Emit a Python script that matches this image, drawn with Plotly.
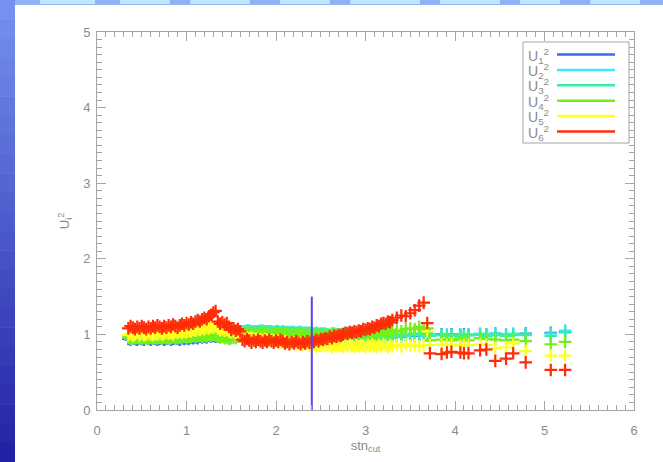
import plotly.graph_objects as go

# stn_cut values shared by all six series
stn_cut = [
    0.350, 0.375, 0.400, 0.425, 0.450, 0.475, 0.500, 0.525, 0.550, 0.575,
    0.600, 0.625, 0.650, 0.675, 0.700, 0.725, 0.750, 0.775, 0.800, 0.825,
    0.850, 0.875, 0.900, 0.925, 0.950, 0.975, 1.000, 1.025, 1.050, 1.075,
    1.100, 1.125, 1.150, 1.175, 1.200, 1.225, 1.250, 1.275, 1.300, 1.325,
    1.350, 1.375, 1.400, 1.425, 1.450, 1.475, 1.500, 1.525, 1.550, 1.575,
    1.600, 1.625, 1.650, 1.675, 1.700, 1.725, 1.750, 1.775, 1.800, 1.825,
    1.850, 1.875, 1.900, 1.925, 1.950, 1.975, 2.000, 2.025, 2.050, 2.075,
    2.100, 2.125, 2.150, 2.175, 2.200, 2.225, 2.250, 2.275, 2.300, 2.325,
    2.350, 2.375, 2.400,
    2.425, 2.450, 2.475, 2.500, 2.525, 2.550, 2.575, 2.600, 2.625, 2.650,
    2.675, 2.700, 2.725, 2.750, 2.775, 2.800, 2.825, 2.850, 2.875, 2.900,
    2.925, 2.950, 2.975, 3.000, 3.025, 3.050, 3.075, 3.100, 3.125, 3.150,
    3.175, 3.200, 3.225, 3.250, 3.275, 3.300,
    3.35, 3.40, 3.45, 3.50, 3.55, 3.60, 3.65,
    3.69, 3.72, 3.85, 3.91, 3.96, 4.06, 4.10, 4.15, 4.28, 4.35,
    4.45, 4.57, 4.65, 4.79, 5.07, 5.23,
]

u1 = [
    0.94, 0.93, 0.95, 0.94, 0.93, 0.95, 0.94, 0.93, 0.95, 0.94,
    0.93, 0.95, 0.94, 0.93, 0.94, 0.95, 0.93, 0.94, 0.95, 0.93,
    0.94, 0.95, 0.94, 0.93, 0.95, 0.94, 0.95, 0.94, 0.96, 0.95,
    0.96, 0.95, 0.97, 0.96, 0.97, 0.96, 0.98, 0.97, 0.98, 0.97,
    0.98, 0.97, 0.99, 0.98, 0.99, 1.00, 0.99, 1.00, 1.01, 1.00,
    1.01, 1.00, 1.02, 1.01, 1.00, 1.02, 1.01, 1.00, 1.02, 1.01,
    1.00, 1.02, 1.01, 1.00, 1.01, 1.02, 1.00, 1.01, 1.00, 1.02,
    1.01, 1.00, 1.01, 1.00, 1.01, 1.00, 0.99, 1.01, 1.00, 0.99,
    1.00, 0.99, 1.00,
    0.99, 0.98, 0.99, 0.98, 0.97, 0.98, 0.97, 0.98, 0.97, 0.96,
    0.97, 0.96, 0.97, 0.96, 0.95, 0.96, 0.95, 0.96, 0.95, 0.96,
    0.95, 0.94, 0.95, 0.96, 0.95, 0.94, 0.95, 0.96, 0.95, 0.94,
    0.96, 0.95, 0.96, 0.97, 0.96, 0.97,
    0.98, 0.97, 0.98, 0.99, 0.98, 0.99, 1.00,
    0.99, 0.99, 1.00, 0.99, 1.00, 0.99, 1.00, 0.99, 1.00, 1.00,
    1.01, 1.00, 1.00, 1.01, 1.02, 1.03,
]

u2 = [
    0.96, 0.97, 0.95, 0.97, 0.96, 0.97, 0.95, 0.96, 0.97, 0.95,
    0.96, 0.97, 0.95, 0.96, 0.97, 0.95, 0.96, 0.97, 0.95, 0.96,
    0.97, 0.96, 0.97, 0.96, 0.98, 0.97, 0.98, 0.97, 0.98, 0.99,
    0.98, 0.99, 0.98, 1.00, 0.99, 0.98, 1.00, 0.99, 1.01, 1.00,
    0.99, 1.01, 1.00, 1.02, 1.01, 1.02, 1.01, 1.03, 1.02, 1.03,
    1.02, 1.03, 1.04, 1.03, 1.05, 1.03, 1.04, 1.03, 1.04, 1.03,
    1.05, 1.03, 1.04, 1.03, 1.04, 1.03, 1.02, 1.04, 1.03, 1.02,
    1.03, 1.02, 1.03, 1.02, 1.03, 1.02, 1.01, 1.03, 1.02, 1.01,
    1.02, 1.01, 1.02,
    1.01, 1.00, 1.01, 1.00, 1.01, 0.99, 1.00, 0.99, 1.00, 0.98,
    0.99, 0.98, 0.99, 0.97, 0.98, 0.97, 0.98, 0.96, 0.97, 0.96,
    0.97, 0.96, 0.97, 0.95, 0.96, 0.97, 0.95, 0.96, 0.97, 0.96,
    0.95, 0.97, 0.96, 0.98, 0.97, 0.98,
    0.97, 0.99, 0.98, 1.00, 0.99, 1.00, 0.99,
    1.00, 1.00, 0.99, 1.00, 0.99, 1.00, 0.99, 1.00, 1.01, 1.00,
    1.01, 1.00, 1.01, 1.00, 1.01, 1.05,
]

u3 = [
    0.97, 0.96, 0.98, 0.96, 0.97, 0.96, 0.98, 0.97, 0.96, 0.98,
    0.97, 0.96, 0.98, 0.97, 0.96, 0.98, 0.97, 0.96, 0.98, 0.97,
    0.96, 0.98, 0.97, 0.98, 0.97, 0.99, 0.98, 0.97, 0.99, 0.98,
    0.99, 0.98, 1.00, 0.99, 0.98, 1.00, 0.99, 1.01, 1.00, 0.99,
    1.00, 0.99, 1.01, 1.00, 1.02, 1.01, 1.00, 1.02, 1.01, 1.03,
    1.02, 1.04, 1.03, 1.05, 1.03, 1.04, 1.02, 1.04, 1.03, 1.05,
    1.03, 1.04, 1.02, 1.04, 1.03, 1.02, 1.04, 1.03, 1.02, 1.04,
    1.02, 1.03, 1.01, 1.03, 1.02, 1.01, 1.03, 1.02, 1.01, 1.02,
    1.01, 1.02, 1.01,
    1.00, 1.02, 1.00, 1.01, 0.99, 1.01, 1.00, 0.99, 1.01, 0.99,
    1.00, 0.98, 1.00, 0.99, 0.98, 1.00, 0.99, 0.98, 1.00, 0.98,
    0.99, 0.97, 0.99, 0.98, 0.97, 0.99, 0.98, 0.97, 0.99, 0.98,
    0.97, 0.99, 0.98, 1.00, 0.98, 0.99,
    1.00, 0.99, 1.00, 0.99, 1.01, 1.00, 1.01,
    1.02, 0.98, 0.99, 0.98, 0.99, 0.97, 0.98, 0.99, 0.99, 0.98,
    0.99, 0.98, 0.99, 0.99, 0.98, 1.03,
]

u4 = [
    0.96, 0.94, 0.97, 0.95, 0.96, 0.94, 0.97, 0.95, 0.96, 0.94,
    0.96, 0.95, 0.97, 0.95, 0.96, 0.94, 0.97, 0.95, 0.96, 0.95,
    0.97, 0.96, 0.95, 0.97, 0.96, 0.98, 0.96, 0.98, 0.97, 0.99,
    0.97, 0.98, 0.99, 0.97, 0.99, 0.98, 1.00, 0.98, 1.00, 0.99,
    0.97, 0.96, 0.97, 0.95, 0.96, 0.94, 0.95, 0.96, 0.95, 0.97,
    0.98, 0.99, 1.01, 1.00, 1.02, 1.00, 1.01, 0.99, 1.01, 1.00,
    1.02, 1.00, 1.01, 0.99, 1.01, 1.00, 1.02, 1.00, 1.01, 0.99,
    1.01, 1.00, 0.99, 1.01, 1.00, 0.98, 1.00, 0.99, 1.01, 0.99,
    0.98, 1.00, 0.98,
    0.99, 0.97, 0.99, 0.98, 0.96, 0.98, 1.00, 0.97, 0.99, 1.01,
    0.98, 1.00, 0.97, 1.01, 0.99, 1.02, 0.98, 1.00, 1.03, 0.99,
    1.01, 1.04, 1.00, 1.02, 0.99, 1.03, 1.01, 1.05, 1.00, 1.03,
    1.06, 1.01, 1.04, 1.02, 1.06, 1.03,
    1.05, 1.04, 1.07, 1.08, 1.07, 1.10, 1.06,
    1.08, 0.92, 0.93, 0.94, 0.92, 0.94, 0.93, 0.92, 0.95, 0.94,
    0.93, 0.92, 0.93, 0.91, 0.87, 0.90,
]

u5 = [
    0.99, 1.01, 0.98, 1.00, 1.02, 0.99, 1.01, 0.99, 1.00, 1.02,
    1.00, 0.99, 1.01, 1.00, 1.02, 1.00, 1.01, 1.03, 1.01, 1.02,
    1.00, 1.03, 1.02, 1.04, 1.02, 1.04, 1.03, 1.05, 1.04, 1.06,
    1.05, 1.07, 1.06, 1.08, 1.07, 1.09, 1.08, 1.10, 1.09, 1.11,
    1.08, 1.06, 1.07, 1.05, 1.06, 1.04, 1.03, 1.04, 1.02, 1.00,
    1.01, 0.98, 0.97, 0.96, 0.95, 0.96, 0.94, 0.95, 0.93, 0.94,
    0.92, 0.94, 0.93, 0.91, 0.93, 0.92, 0.90, 0.92, 0.91, 0.89,
    0.91, 0.90, 0.88, 0.90, 0.89, 0.87, 0.89, 0.88, 0.86, 0.88,
    0.87, 0.85, 0.87,
    0.86, 0.84, 0.86, 0.85, 0.87, 0.84, 0.86, 0.85, 0.83, 0.86,
    0.84, 0.86, 0.85, 0.83, 0.86, 0.84, 0.87, 0.85, 0.83, 0.86,
    0.84, 0.86, 0.85, 0.83, 0.86, 0.84, 0.87, 0.85, 0.83, 0.86,
    0.84, 0.87, 0.85, 0.83, 0.86, 0.84,
    0.86, 0.84, 0.87, 0.85, 0.86, 0.84, 0.86,
    1.04, 0.86, 0.87, 0.86, 0.87, 0.85, 0.86, 0.86, 0.87, 0.86,
    0.82, 0.83, 0.88, 0.78, 0.72, 0.72,
]

u6 = [
    1.08, 1.11, 1.09, 1.07, 1.10, 1.08, 1.11, 1.09, 1.07, 1.10,
    1.08, 1.11, 1.09, 1.12, 1.10, 1.08, 1.11, 1.09, 1.12, 1.10,
    1.13, 1.11, 1.09, 1.12, 1.14, 1.12, 1.15, 1.13, 1.16, 1.14,
    1.17, 1.19, 1.17, 1.20, 1.22, 1.20, 1.24, 1.26, 1.29, 1.31,
    1.17, 1.14, 1.16, 1.13, 1.15, 1.10, 1.06, 1.08, 1.05, 1.07,
    1.04, 0.93, 0.91, 0.94, 0.92, 0.89, 0.92, 0.90, 0.93, 0.91,
    0.89, 0.92, 0.90, 0.93, 0.91, 0.89, 0.92, 0.90, 0.93, 0.91,
    0.88, 0.90, 0.87, 0.90, 0.88, 0.91, 0.89, 0.87, 0.90, 0.88,
    0.91, 0.89, 0.92,
    0.90, 0.93, 0.91, 0.94, 0.93, 0.95, 0.94, 0.97, 0.95, 0.98,
    0.97, 0.99, 0.98, 1.00, 1.02, 1.01, 1.03, 1.02, 1.04, 1.03,
    1.05, 1.04, 1.07, 1.06, 1.08, 1.07, 1.10, 1.09, 1.12, 1.11,
    1.14, 1.15, 1.14, 1.17, 1.16, 1.19,
    1.22, 1.25, 1.24, 1.28, 1.32, 1.38, 1.42,
    1.15, 0.75, 0.74, 0.76, 0.77, 0.76, 0.75, 0.75, 0.79, 0.80,
    0.65, 0.68, 0.75, 0.63, 0.53, 0.53,
]

series_names = ["U<sub>1</sub><sup>2</sup>", "U<sub>2</sub><sup>2</sup>",
                "U<sub>3</sub><sup>2</sup>", "U<sub>4</sub><sup>2</sup>",
                "U<sub>5</sub><sup>2</sup>", "U<sub>6</sub><sup>2</sup>"]
series_values = [u1, u2, u3, u4, u5, u6]
series_colors = ["#3a68f4", "#3ae8ff", "#34f0a4", "#74f018", "#ffff22", "#ff2c08"]

# cut position and height of the marker line
cut_x = 2.40
cut_top = 1.5

xticks = [0, 1, 2, 3, 4, 5, 6]
yticks = [0, 1, 2, 3, 4, 5]

# plot area in pixels (for paper-coordinate decorations)
W, H = 663, 462
L, R, T, B = 97, 29, 32, 52
pw, ph = W - L - R, H - T - B


def px(xp):
    return (xp - L) / pw


def py(yp):
    return (H - B - yp) / ph


axis_grey = "#a4a4a4"
text_grey = "#8a8a8a"
font_family = "Liberation Sans"

fig = go.Figure()

for name, vals, col in zip(series_names, series_values, series_colors):
    fig.add_trace(go.Scatter(
        x=stn_cut, y=vals, mode="markers", name=name, showlegend=False,
        marker=dict(symbol="cross-thin", size=9, color=col,
                    line=dict(color=col, width=2.2)),
    ))

fig.add_trace(go.Scatter(
    x=[cut_x, cut_x], y=[0, cut_top], mode="lines", showlegend=False,
    line=dict(color="#5a42f2", width=2),
))

shapes = []

# slide background: gradient strip on the left, banner strip on top
n_bands = 24
top_rgb = (0x74, 0x90, 0xf0)
bot_rgb = (0x24, 0x22, 0xa4)
for i in range(n_bands):
    f = i / (n_bands - 1)
    c = tuple(int(round(a + (b - a) * f)) for a, b in zip(top_rgb, bot_rgb))
    y0p = H * i / n_bands
    y1p = H * (i + 1) / n_bands + 0.5
    shapes.append(dict(type="rect", xref="paper", yref="paper", layer="below",
                       x0=px(0), x1=px(15), y0=py(y1p), y1=py(y0p),
                       fillcolor="rgb(%d,%d,%d)" % c, line=dict(width=0)))
shapes.append(dict(type="rect", xref="paper", yref="paper", layer="below",
                   x0=px(15), x1=px(W), y0=py(5), y1=py(0),
                   fillcolor="#8fb2f4", line=dict(width=0)))
for a, b in [(40, 95), (120, 170), (190, 250), (280, 330), (350, 420),
             (440, 500), (520, 560), (590, 640)]:
    shapes.append(dict(type="rect", xref="paper", yref="paper", layer="below",
                       x0=px(a), x1=px(b), y0=py(4), y1=py(0),
                       fillcolor="#bfe6fc", line=dict(width=0)))

# legend box with line samples on the right of each label
leg_x0, leg_x1, leg_y0, leg_y1 = 523, 629, 143, 42
shapes.append(dict(type="rect", xref="paper", yref="paper",
                   x0=px(leg_x0), x1=px(leg_x1), y0=py(leg_y0), y1=py(leg_y1),
                   fillcolor="white", line=dict(color=axis_grey, width=1)))
annotations = []
row0, row_step = 54.5, 15.4
for k, (name, col) in enumerate(zip(series_names, series_colors)):
    yrow = row0 + k * row_step
    shapes.append(dict(type="line", xref="paper", yref="paper",
                       x0=px(557), x1=px(615), y0=py(yrow), y1=py(yrow),
                       line=dict(color=col, width=2.5)))
    annotations.append(dict(xref="paper", yref="paper", x=px(526), y=py(yrow + 1),
                            xanchor="left", yanchor="middle", showarrow=False,
                            text=name,
                            font=dict(family=font_family, size=14,
                                      color=text_grey)))

axis_common = dict(
    showgrid=False, zeroline=False, showline=True, mirror="ticks",
    linecolor=axis_grey, linewidth=1,
    ticks="inside", ticklen=9, tickwidth=1, tickcolor=axis_grey,
    tickfont=dict(family=font_family, size=13, color=text_grey),
    minor=dict(ticks="inside", ticklen=5, tickwidth=1, tickcolor=axis_grey,
               dtick=0.1, showgrid=False),
)

fig.update_layout(
    width=W, height=H,
    margin=dict(l=L, r=R, t=T, b=B, pad=0),
    paper_bgcolor="white", plot_bgcolor="white",
    showlegend=False,
    shapes=shapes, annotations=annotations,
    xaxis=dict(range=[0, 6], tickvals=xticks, ticklabelstandoff=8,
               title=dict(text="stn<sub>cut</sub>", standoff=3,
                          font=dict(family=font_family, size=13,
                                    color=text_grey)),
               **axis_common),
    yaxis=dict(range=[0, 5], tickvals=yticks, ticklabelstandoff=3,
               title=dict(text="U<sub>i</sub><sup>2</sup>", standoff=10,
                          font=dict(family=font_family, size=13,
                                    color=text_grey)),
               **axis_common),
)

fig.write_html("out.html")
